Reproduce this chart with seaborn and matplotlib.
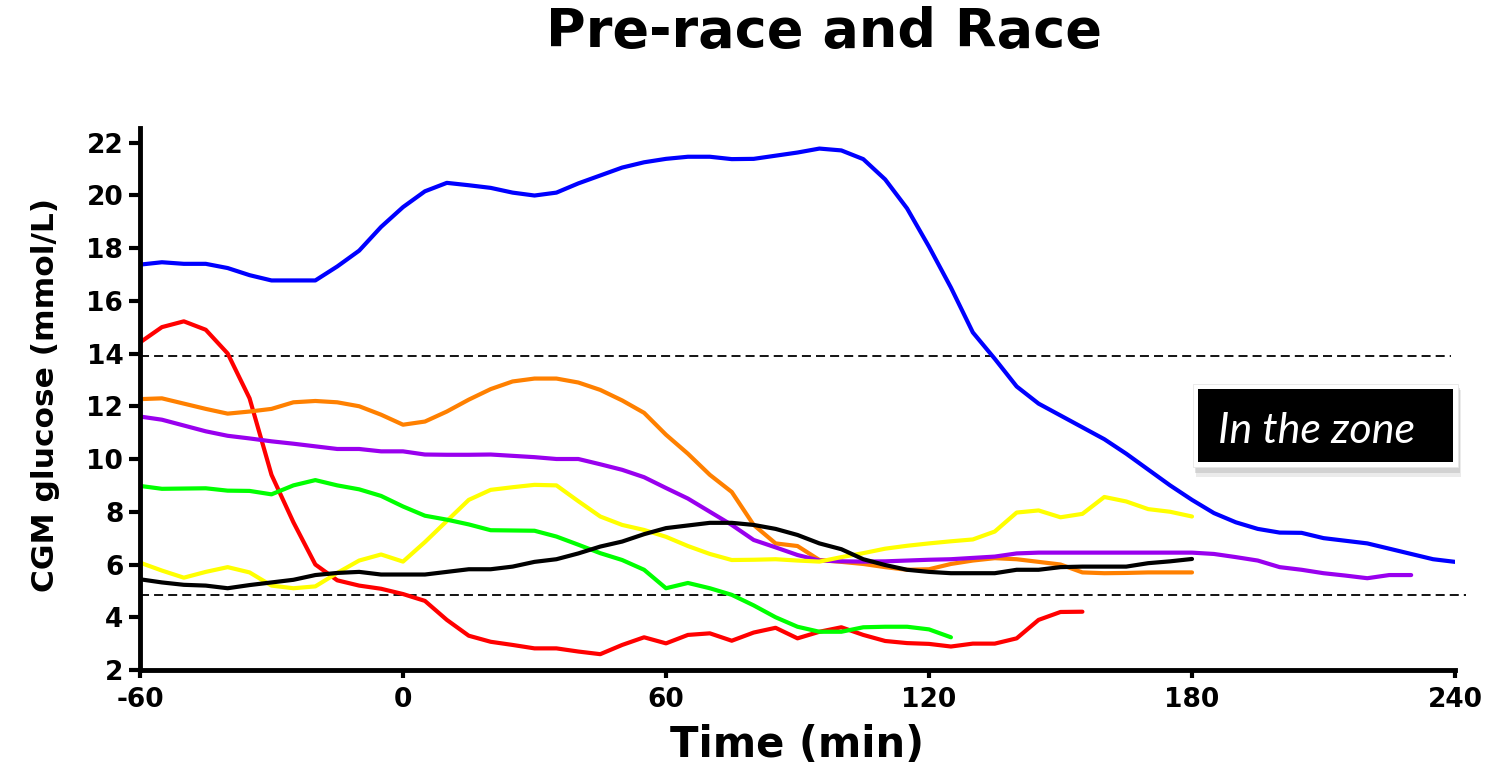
import numpy as np
import pandas as pd
import matplotlib
matplotlib.use("Agg")
import matplotlib.pyplot as plt
from matplotlib.patches import Rectangle
import seaborn as sns

# ---------------- data ----------------
t_blue = list(range(-60, 245, 5))
blue = [17.37, 17.46, 17.40, 17.40, 17.24, 16.97, 16.77, 16.77, 16.77, 17.3,
        17.9, 18.8, 19.55, 20.15, 20.47, 20.38, 20.28, 20.1, 19.99, 20.1,
        20.45, 20.75, 21.05, 21.25, 21.38, 21.46, 21.46, 21.37, 21.38, 21.5,
        21.62, 21.77, 21.7, 21.37, 20.6, 19.5, 18.05, 16.5, 14.8, 13.8,
        12.75, 12.1, 11.65, 11.2, 10.75, 10.2, 9.6, 9.0, 8.45, 7.95,
        7.6, 7.35, 7.21, 7.2, 7.0, 6.9, 6.8, 6.6, 6.4, 6.2, 6.1]

t_red = list(range(-60, 160, 5))
red = [14.42, 15.0, 15.22, 14.9, 14.0, 12.3, 9.4, 7.6, 6.0, 5.4,
       5.2, 5.08, 4.88, 4.62, 3.9, 3.3, 3.07, 2.95, 2.82, 2.82,
       2.7, 2.6, 2.95, 3.24, 3.01, 3.33, 3.39, 3.11, 3.42, 3.6,
       3.2, 3.45, 3.62, 3.33, 3.1, 3.02, 2.99, 2.89, 3.0, 3.0,
       3.2, 3.9, 4.2, 4.21]

t_orange = list(range(-60, 185, 5))
orange = [12.27, 12.3, 12.1, 11.9, 11.72, 11.8, 11.9, 12.15, 12.2, 12.15,
          12.0, 11.68, 11.3, 11.42, 11.8, 12.25, 12.65, 12.94, 13.05, 13.05,
          12.9, 12.62, 12.22, 11.75, 10.92, 10.2, 9.4, 8.75, 7.5, 6.8,
          6.7, 6.17, 6.1, 6.02, 5.9, 5.8, 5.82, 6.02, 6.15, 6.24,
          6.2, 6.1, 6.0, 5.7, 5.67, 5.68, 5.7, 5.7, 5.7]

t_purple = list(range(-60, 235, 5))
purple = [11.61, 11.49, 11.27, 11.05, 10.88, 10.78, 10.67, 10.58, 10.48, 10.38,
          10.38, 10.29, 10.29, 10.17, 10.16, 10.16, 10.17, 10.12, 10.07, 10.0,
          10.0, 9.8, 9.59, 9.31, 8.9, 8.5, 8.0, 7.5, 6.93, 6.65,
          6.36, 6.15, 6.12, 6.11, 6.12, 6.15, 6.18, 6.2, 6.25, 6.3,
          6.42, 6.45, 6.45, 6.45, 6.45, 6.45, 6.45, 6.45, 6.45, 6.4,
          6.28, 6.15, 5.9, 5.8, 5.67, 5.58, 5.48, 5.6, 5.6]

t_green = list(range(-60, 130, 5))
green = [8.98, 8.87, 8.88, 8.89, 8.8, 8.79, 8.66, 9.0, 9.2, 9.0,
         8.85, 8.6, 8.2, 7.85, 7.7, 7.52, 7.3, 7.29, 7.28, 7.06,
         6.75, 6.43, 6.17, 5.8, 5.1, 5.3, 5.1, 4.85, 4.45, 4.0,
         3.64, 3.45, 3.45, 3.62, 3.64, 3.64, 3.54, 3.24]

t_yellow = list(range(-60, 185, 5))
yellow = [6.07, 5.77, 5.5, 5.72, 5.9, 5.7, 5.2, 5.1, 5.17, 5.68,
          6.15, 6.38, 6.11, 6.85, 7.65, 8.45, 8.83, 8.93, 9.02, 9.0,
          8.4, 7.82, 7.5, 7.31, 7.05, 6.7, 6.4, 6.17, 6.18, 6.2,
          6.15, 6.11, 6.28, 6.43, 6.6, 6.71, 6.8, 6.88, 6.95, 7.25,
          7.97, 8.05, 7.79, 7.92, 8.56, 8.39, 8.1, 8.0, 7.82]

t_black = list(range(-60, 185, 5))
black = [5.44, 5.32, 5.23, 5.2, 5.1, 5.22, 5.32, 5.42, 5.6, 5.68,
         5.72, 5.62, 5.62, 5.62, 5.72, 5.82, 5.82, 5.92, 6.1, 6.2,
         6.42, 6.68, 6.87, 7.15, 7.38, 7.48, 7.58, 7.58, 7.5, 7.35,
         7.12, 6.8, 6.58, 6.2, 5.98, 5.8, 5.72, 5.67, 5.67, 5.67,
         5.8, 5.8, 5.9, 5.92, 5.92, 5.92, 6.05, 6.12, 6.21]

upper_limit = 13.9
lower_limit = 4.85

title = "Pre-race and Race"
xlabel = "Time (min)"
ylabel = "CGM glucose (mmol/L)"
box_text = "In the zone"
x_ticks = [-60, 0, 60, 120, 180, 240]
y_ticks = [2, 4, 6, 8, 10, 12, 14, 16, 18, 20, 22]

series = [
    ("blue", t_blue, blue),
    ("red", t_red, red),
    ("orange", t_orange, orange),
    ("purple", t_purple, purple),
    ("yellow", t_yellow, yellow),
    ("green", t_green, green),
    ("black", t_black, black),
]
colors = {"blue": "#0000FF", "red": "#FF0000", "orange": "#FF8000",
          "purple": "#9900EE", "yellow": "#FFFF00", "green": "#00FF00",
          "black": "#000000"}

frames = [pd.DataFrame({"time": t, "glucose": v, "athlete": name})
          for name, t, v in series]
df = pd.concat(frames, ignore_index=True)

# ---------------- figure ----------------
sns.set_style("ticks")
plt.rcParams["font.family"] = ["DejaVu Sans"]
plt.rcParams["axes.unicode_minus"] = False
plt.rcParams["text.color"] = "black"
plt.rcParams["axes.labelcolor"] = "black"

W, H = 1502, 766
fig = plt.figure(figsize=(W / 100, H / 100), dpi=100)
ax = fig.add_axes([140 / W, 1 - 670 / H, 1315 / W, (670 - 128) / H])

sns.lineplot(data=df, x="time", y="glucose", hue="athlete",
             hue_order=[s[0] for s in series], palette=colors,
             estimator=None, linewidth=3.0, legend=False, ax=ax)

# thresholds
ax.hlines(upper_limit, -60, 239, colors="black", linestyles=(0, (5, 2.8)),
          linewidth=1.3, clip_on=False, zorder=1)
ax.hlines(lower_limit, -60, 242.5, colors="black", linestyles=(0, (5, 2.8)),
          linewidth=1.3, clip_on=False, zorder=1)

ax.set_xlim(-60, 240)
ax.set_ylim(2, 22.55)
ax.set_xticks(x_ticks)
ax.set_yticks(y_ticks)
sns.despine(ax=ax)
for side in ("left", "bottom"):
    ax.spines[side].set_linewidth(3.5)
    ax.spines[side].set_color("black")
ax.tick_params(axis="x", direction="out", length=6, width=3, pad=6,
               labelsize=19, colors="black")
ax.tick_params(axis="y", direction="out", length=8, width=3, pad=4,
               labelsize=19, colors="black")
for lab in ax.get_xticklabels() + ax.get_yticklabels():
    lab.set_fontweight("bold")
    lab.set_color("black")

ax.set_xlabel(xlabel, fontsize=30, fontweight="bold", labelpad=8, color="black")
ax.set_ylabel(ylabel, fontsize=22.5, fontweight="bold", color="black")
ax.yaxis.set_label_coords((45 - 140) / 1315, 0.5 + (399 - 395.5) / 542)
ax.yaxis.label.set_va("center")

fig.text(824 / W, 1 - 46.7 / H, title, ha="center", va="baseline",
         fontsize=39, fontweight="bold", color="black")


def fig_rect(x0, y0, x1, y1, **kw):
    r = Rectangle((x0 / W, 1 - y1 / H), (x1 - x0) / W, (y1 - y0) / H,
                  transform=fig.transFigure, figure=fig, **kw)
    fig.patches.append(r)


fig_rect(1196, 390, 1461, 477, facecolor="#b0b0b0", edgecolor="none", alpha=0.25, zorder=5)
fig_rect(1195, 388, 1460, 473, facecolor="#999999", edgecolor="none", alpha=0.3, zorder=5)
fig_rect(1193, 384, 1458, 467, facecolor="white", edgecolor="#e6e6e6", linewidth=0.6, zorder=6)
fig_rect(1198, 389, 1453, 462, facecolor="black", edgecolor="none", zorder=7)
fig.text(1317 / W, 1 - 443 / H, box_text, ha="center", va="baseline",
         fontsize=31, color="white", family=["Lato", "DejaVu Sans"],
         style="italic", zorder=8)

fig.savefig("out.png", dpi=100)
